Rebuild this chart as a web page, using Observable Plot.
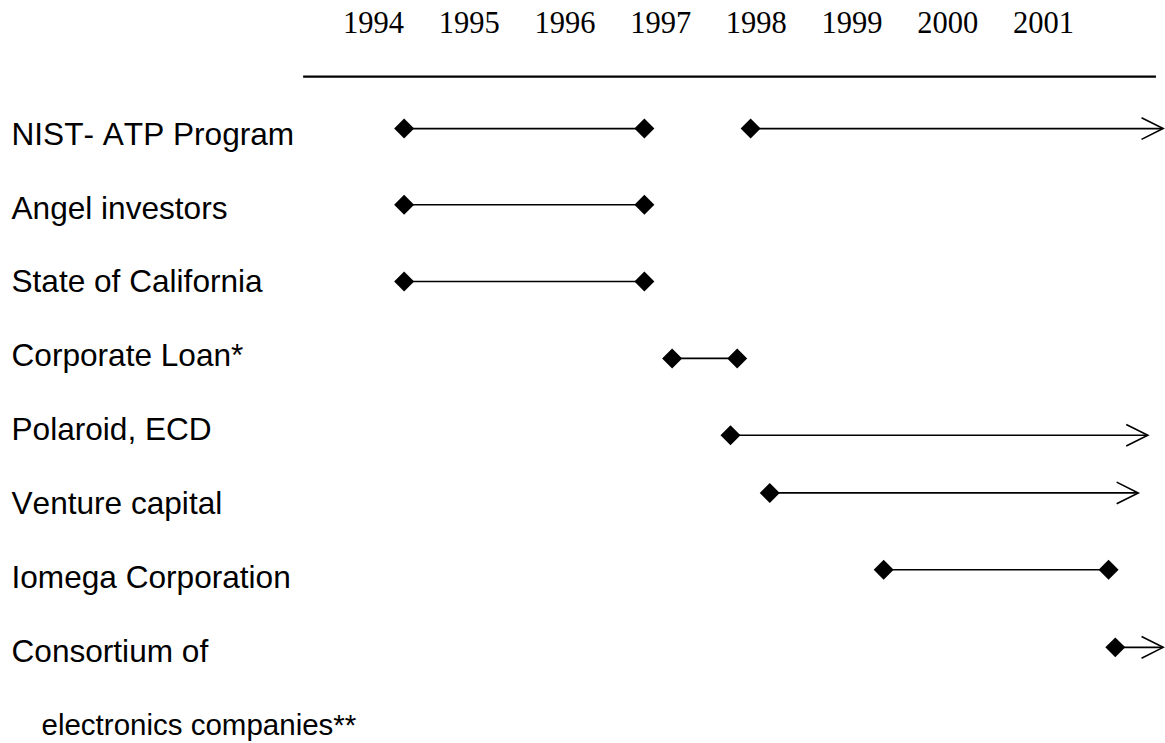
<!DOCTYPE html>
<html>
<head>
<meta charset="utf-8">
<script src="https://cdn.jsdelivr.net/npm/d3@7"></script>
<script src="https://cdn.jsdelivr.net/npm/@observablehq/plot@0.6"></script>
<style>
  html, body { margin: 0; padding: 0; background: #fff; }
  #chart svg { display: block; }
  #chart svg text { font-kerning: none; }
</style>
</head>
<body>
<div id="chart"></div>
<script>
// ---- data ----
const years = [1994, 1995, 1996, 1997, 1998, 1999, 2000, 2001];
const categories = [
  "NIST- ATP Program",
  "Angel investors",
  "State of California",
  "Corporate Loan*",
  "Polaroid, ECD",
  "Venture capital",
  "Iomega Corporation",
  "Consortium of"
];
const continuationLabel = "electronics companies**";
// vertical lane of each row's timeline (in row units)
const rowLane = [-0.08, 0.95, 1.99, 3.03, 4.07, 4.85, 5.89, 6.94];
// funding periods
const segRow   = [0, 0, 1, 2, 3, 4, 5, 6, 7];
const segStart = [1994.32, 1997.94, 1994.32, 1994.32, 1997.12, 1997.73, 1998.14, 1999.33, 2001.75];
const segEnd   = [1996.83, 2002.25, 1996.83, 1996.83, 1997.80, 2002.09, 2001.99, 2001.68, 2002.25];
const segOngoing = [false, true, false, false, false, true, true, false, true];

// ---- derived tables ----
const segments = segRow.map((r, i) => ({
  lane: rowLane[r], start: segStart[i], end: segEnd[i], ongoing: segOngoing[i]
}));
const diamonds = segments.flatMap(s =>
  s.ongoing ? [{x: s.start, lane: s.lane}] : [{x: s.start, lane: s.lane}, {x: s.end, lane: s.lane}]
);
const arrowTips = segments.filter(s => s.ongoing).map(s => ({x: s.end, lane: s.lane}));
const labelRows = categories.map((c, i) => ({label: c, row: i}));

// open chevron arrowhead symbol
const chevron = {
  draw(context, size) {
    const r = Math.sqrt(size / Math.PI);
    context.moveTo(-2 * r, -r);
    context.lineTo(0, 0);
    context.lineTo(-2 * r, r);
  }
};

const chart = Plot.plot({
  width: 1165,
  height: 743,
  margin: 0,
  x: {domain: [1994, 2001], range: [373, 1043], axis: null},
  y: {domain: [0, 8], range: [134, 725.2], axis: null},
  style: {background: "#fff", color: "#000"},
  marks: [
    // year headings
    Plot.text(years, {
      x: d => d, y: () => -1.5, text: d => String(d),
      fontFamily: "Liberation Serif, Times New Roman, serif", fontSize: 30.5, fill: "#000"
    }),
    // rule under headings
    Plot.ruleY([-0.782], {x1: 1993.27, x2: 2002.18, stroke: "#000", strokeWidth: 2.2}),
    // row labels
    Plot.text(labelRows, {
      frameAnchor: "left", y: "row", text: "label", textAnchor: "start", dx: 11,
      fontFamily: "Liberation Sans, Arial, sans-serif", fontSize: 31.6, fill: "#000"
    }),
    Plot.text([continuationLabel], {
      frameAnchor: "left", y: () => 8, text: d => d, textAnchor: "start", dx: 41,
      fontFamily: "Liberation Sans, Arial, sans-serif", fontSize: 29.5, fill: "#000"
    }),
    // period lines
    Plot.ruleY(segments, {y: "lane", x1: "start", x2: "end", stroke: "#000", strokeWidth: 1.6}),
    // arrowheads for ongoing funding
    Plot.dot(arrowTips, {x: "x", y: "lane", symbol: chevron, r: 10.8, fill: "none", stroke: "#000", strokeWidth: 1.6}),
    // diamonds
    Plot.dot(diamonds, {x: "x", y: "lane", symbol: "diamond2", r: 9, fill: "#000", stroke: "none"})
  ]
});
document.getElementById("chart").append(chart);
</script>
</body>
</html>
